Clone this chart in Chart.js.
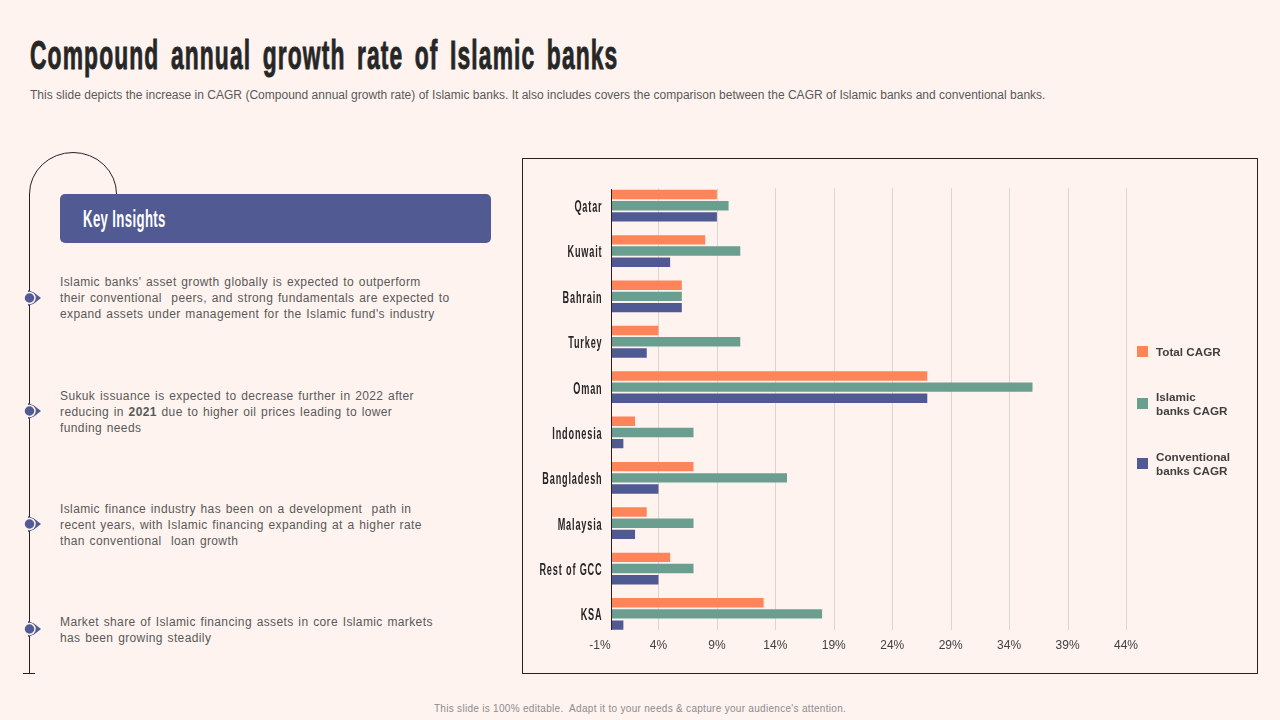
<!DOCTYPE html>
<html>
<head>
<meta charset="utf-8">
<title>Compound annual growth rate of Islamic banks</title>
<script src="https://cdn.jsdelivr.net/npm/chart.js@4/dist/chart.umd.min.js"></script>
<style>
html,body{margin:0;padding:0;width:1280px;height:720px;overflow:hidden;background:#fef3ef;font-family:"Liberation Sans",Arial,sans-serif}
.abs{position:absolute;white-space:nowrap}
#title{left:30px;top:33px;font:bold 40px/44px "Liberation Sans";color:#262626;letter-spacing:2px;word-spacing:7px;transform:scaleX(.57);transform-origin:0 0;-webkit-text-stroke:.9px #262626}
#sub{left:30px;top:87px;font-size:12px;line-height:16px;color:#595959;letter-spacing:.016px}
#foot{left:0;width:1280px;top:702px;text-align:center;font-size:10px;line-height:14px;color:#8c8c8c;letter-spacing:.3px}
#keybar{left:60px;top:194px;width:431px;height:49px;background:#515a92;border-radius:5px}
#keytxt{left:83px;top:206px;font:bold 23px/26px "Liberation Sans";color:#fff;letter-spacing:.6px;transform:scaleX(.575);transform-origin:0 0}
.para{left:60px;font-size:12px;line-height:16px;color:#595959;word-spacing:1px;letter-spacing:.38px}
#box{left:522px;top:158px;width:736px;height:516px;box-sizing:border-box;border:1px solid #2a2020}
#c{position:absolute;left:-1px;top:-1px}
.sw{position:absolute;width:11px;height:11px}
.lg{font-size:11.7px;line-height:14px;font-weight:bold;color:#404040}
</style>
</head>
<body>
<div class="abs" id="title">Compound annual growth rate of Islamic banks</div>
<div class="abs" id="sub">This slide depicts the increase in CAGR (Compound annual growth rate) of Islamic banks. It also includes covers the comparison between the CAGR of Islamic banks and conventional banks.</div>

<svg class="abs" style="left:0;top:0" width="520" height="700">
  <path d="M116.5 194 A43.5 41.5 0 0 0 29.5 194 V673 M23 673.5 H35" fill="none" stroke="#2a2020" stroke-width="1"/>
  <g id="marks"></g>
</svg>

<div class="abs" id="keybar"></div>
<div class="abs" id="keytxt">Key Insights</div>

<div class="abs para" style="top:274px">Islamic banks' asset growth globally is expected to outperform<br>their conventional&nbsp; peers, and strong fundamentals are expected to<br>expand assets under management for the Islamic fund's industry</div>
<div class="abs para" style="top:388px">Sukuk issuance is expected to decrease further in 2022 after<br>reducing in <b>2021</b> due to higher oil prices leading to lower<br>funding needs</div>
<div class="abs para" style="top:501px">Islamic finance industry has been on a development&nbsp; path in<br>recent years, with Islamic financing expanding at a higher rate<br>than conventional&nbsp; loan growth</div>
<div class="abs para" style="top:614px">Market share of Islamic financing assets in core Islamic markets<br>has been growing steadily</div>

<div class="abs" id="box"><canvas id="c" width="736" height="516"></canvas></div>
<div id="legend"></div>

<div class="abs" id="foot">This slide is 100% editable.&nbsp; Adapt it to your needs &amp; capture your audience's attention.</div>

<script>
'use strict'

let countries=['Qatar','Kuwait','Bahrain','Turkey','Oman','Indonesia','Bangladesh','Malaysia','Rest of GCC','KSA'];
let totalCagr=[9,8,6,4,27,2,7,3,5,13];
let islamicCagr=[10,11,6,11,36,7,15,7,7,18];
let conventionalCagr=[9,5,6,3,27,1,4,2,4,1];
let xTickValues=[-1,4,9,14,19,24,29,34,39,44];
let seriesNames=['Total CAGR','Islamic banks CAGR','Conventional banks CAGR'];
let seriesColors=['#ff845a','#6a9f8f','#505a92'];

// timeline dots
let marksEl=document.getElementById('marks');
[298,411,524,629].forEach(function(y){
    marksEl.innerHTML+='<path d="M28 '+(y-8)+' L34 '+(y-5.5)+' L41 '+y+' L34 '+(y+5.5)+' L28 '+(y+8)+' Z" fill="#515a92"/>'+
    '<circle cx="29.5" cy="'+y+'" r="5.5" fill="#515a92" stroke="#fef3ef" stroke-width="1.5"/>';
});

// legend on the right
let legendEl=document.getElementById('legend');
let legendRows=[{top:345,sw:346,lines:['Total CAGR']},{top:390,sw:398,lines:['Islamic','banks CAGR']},{top:450,sw:458,lines:['Conventional','banks CAGR']}];
legendRows.forEach(function(row,i){
    let sw=document.createElement('div');
    sw.className='abs sw';
    sw.style.left='1137px';
    sw.style.top=row.sw+'px';
    sw.style.background=seriesColors[i];
    legendEl.appendChild(sw);
    let tx=document.createElement('div');
    tx.className='abs lg';
    tx.style.left='1156px';
    tx.style.top=row.top+'px';
    tx.innerHTML=row.lines.join('<br>');
    legendEl.appendChild(tx);
});

// grid is shorter than the category band, so it is drawn here
// the category names are squeezed too, no narrow font is installed
let shortGrid={
    id:'shortGrid',
    beforeDatasetsDraw(chart){
        let ctx=chart.ctx, x=chart.scales.x, y=chart.scales.y;
        let top=y.getPixelForValue(0)-17.5, bottom=y.getPixelForValue(countries.length-1)+16;
        ctx.save();
        ctx.lineWidth=1;
        ctx.strokeStyle='#dcd5d6';
        xTickValues.slice(1).forEach(function(v){
            let px=Math.round(x.getPixelForValue(v))+0.5;
            ctx.beginPath();ctx.moveTo(px,top);ctx.lineTo(px,bottom);ctx.stroke();
        });
        ctx.restore();
    },
    afterDatasetsDraw(chart){
        let ctx=chart.ctx, x=chart.scales.x, y=chart.scales.y;
        let px=Math.round(x.getPixelForValue(0))-0.5;
        ctx.save();
        ctx.lineWidth=1;
        ctx.strokeStyle='#262020';
        ctx.beginPath();
        ctx.moveTo(px,y.getPixelForValue(0)-16.5);
        ctx.lineTo(px,y.getPixelForValue(countries.length-1)+16);
        ctx.stroke();
        // category names
        ctx.fillStyle='#262626';
        ctx.font='bold 16px "Liberation Sans"';
        ctx.letterSpacing='1.5px';
        ctx.textAlign='right';
        ctx.textBaseline='middle';
        countries.forEach(function(name,i){
            ctx.save();
            ctx.translate(px-9,y.getPixelForValue(i)+2);
            ctx.scale(0.57,1);
            ctx.fillText(name,0,0);
            ctx.restore();
        });
        ctx.restore();
    }
};

function makeSet(i,vals){
    return {label:seriesNames[i],data:vals,backgroundColor:seriesColors[i],categoryPercentage:0.74,barPercentage:0.84};
}

new Chart(document.getElementById('c').getContext('2d'),{
    type:'bar',
    data:{
        labels:countries,
        datasets:[makeSet(0,totalCagr),makeSet(1,islamicCagr),makeSet(2,conventionalCagr)]
    },
    options:{
        indexAxis:'y',
        responsive:false,
        animation:false,
        layout:{padding:{left:78,right:132,top:25,bottom:19}},
        plugins:{legend:{display:false},tooltip:{enabled:false}},
        scales:{
            x:{
                type:'linear',
                min:-1,
                max:44,
                afterBuildTicks(axis){axis.ticks=xTickValues.map(function(v){return {value:v}});},
                grid:{display:false,drawTicks:false},
                border:{display:false},
                ticks:{
                    autoSkip:false,
                    maxRotation:0,
                    padding:2,
                    color:'#404040',
                    font:{family:'"Liberation Sans"',size:12},
                    callback(v){return v+'%';}
                }
            },
            y:{
                position:{x:0},
                grid:{display:false,drawTicks:false},
                border:{display:false},
                ticks:{display:false}
            }
        }
    },
    plugins:[shortGrid]
});
</script>
</body>
</html>
